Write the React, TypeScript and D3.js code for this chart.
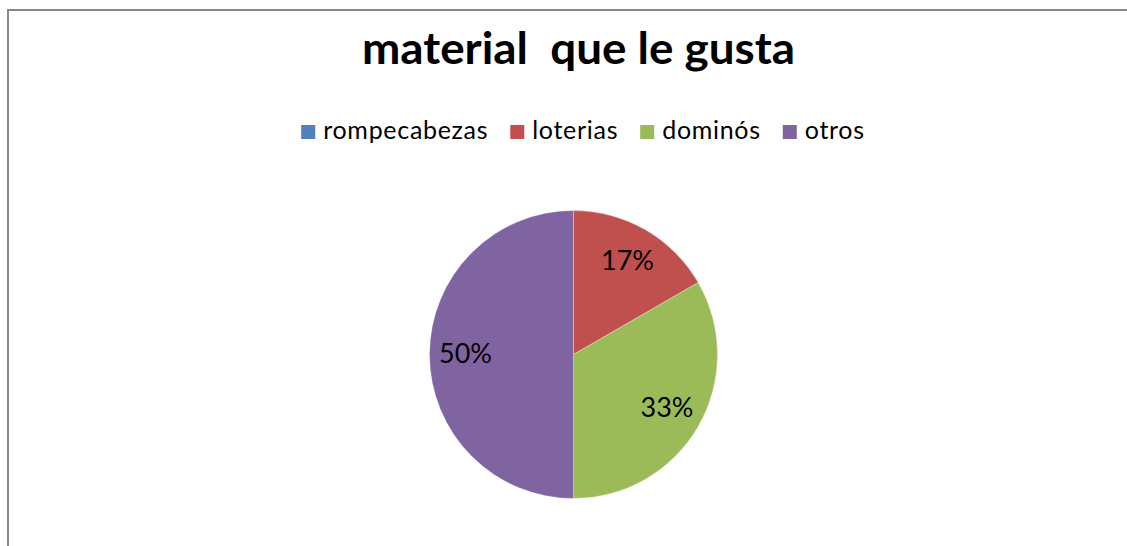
// @ts-nocheck
import React, { useEffect, useRef } from 'react';
import * as d3 from 'd3';

const title = "material  que le gusta";
const categories = ["rompecabezas", "loterias", "dominós", "otros"];
const values = [0, 1, 2, 3];
const labels = ["0%", "17%", "33%", "50%"];
const colors = ["#4F81BD", "#C0504D", "#9BBB59", "#8064A2"];

const width = 1127, height = 546;
const cx = 573.5, cy = 354.5, radius = 144;

function draw(node) {
    const svg = d3.select(node);
    svg.selectAll("*").remove();

    /* Frame */
    svg.append("rect")
        .attr("x", 8).attr("y", 10)
        .attr("width", width).attr("height", height)
        .attr("fill", "#fff")
        .attr("stroke", "#888").attr("stroke-width", 2);

    /* Title */
    svg.append("text")
        .attr("x", 578.5).attr("y", 64)
        .attr("text-anchor", "middle")
        .attr("textLength", 433)
        .attr("lengthAdjust", "spacingAndGlyphs")
        .style("font", "bold 44px Lato, 'Open Sans', sans-serif")
        .style("white-space", "pre")
        .attr("fill", "#000")
        .text(title);

    /* Legend */
    const legend = svg.append("g").attr("transform", "translate(0,139)");
    const items = legend.selectAll("g")
        .data(categories)
        .join("g");
    items.append("rect")
        .attr("y", -14).attr("width", 14).attr("height", 14)
        .attr("fill", (d, i) => colors[i]);
    items.append("text")
        .attr("x", 22)
        .style("font", "25px Lato, 'Open Sans', sans-serif")
        .style("letter-spacing", "0.7px")
        .attr("fill", "#000")
        .text(d => d);
    let x = 0;
    items.each(function () {
        const w = d3.select(this).select("text").node().getComputedTextLength();
        d3.select(this).attr("data-x", x);
        x += 22 + w + 22;
    });
    const total = x - 22;
    const x0 = 583 - total / 2;
    items.attr("transform", function () { return `translate(${x0 + +this.getAttribute("data-x")},0)`; });

    /* Pie */
    const pie = d3.pie().sort(null).value(d => d)(values);
    const arc = d3.arc().innerRadius(0).outerRadius(radius);
    const labelArc = d3.arc().innerRadius(radius * 0.75).outerRadius(radius * 0.75);
    const g = svg.append("g").attr("transform", `translate(${cx},${cy})`);
    g.selectAll("path")
        .data(pie)
        .join("path")
        .attr("d", arc)
        .attr("fill", (d, i) => colors[i])
        .attr("stroke", "#fff")
        .attr("stroke-width", 0.6)
        .attr("stroke-opacity", 0.5);
    g.selectAll("text")
        .data(pie.filter(d => d.value > 0))
        .join("text")
        .attr("transform", d => `translate(${labelArc.centroid(d)})`)
        .attr("text-anchor", "middle")
        .attr("dy", "0.33em")
        .style("font", "27px Lato, 'Open Sans', sans-serif")
        .attr("fill", "#000")
        .text(d => labels[d.index]);
}

export default function App() {
    const ref = useRef(null);
    useEffect(() => { draw(ref.current); }, []);
    return (
        <svg ref={ref} width={width} height={height}
            style={{ position: "absolute", left: 0, top: 0, display: "block" }} />
    );
}
